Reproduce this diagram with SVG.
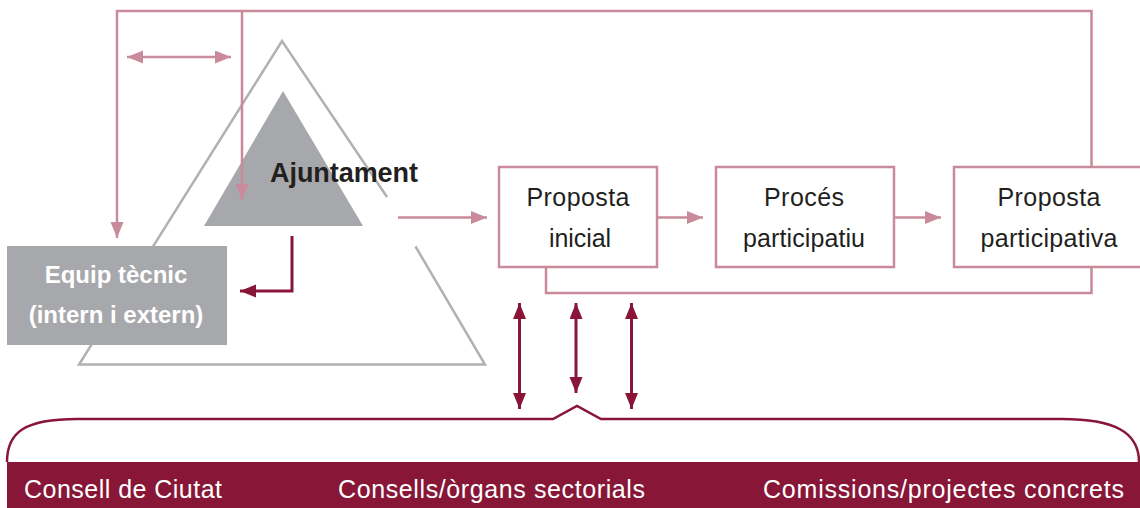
<svg xmlns="http://www.w3.org/2000/svg" width="1140" height="508" viewBox="0 0 1140 508">
<defs>
<style>
.pink{fill:none;stroke:#c98b9b;stroke-width:2.5}
.dark{fill:none;stroke:#891638;stroke-width:3}
.box{fill:#fff;stroke:#c98b9b;stroke-width:2.5}
.btxt{font-family:"Liberation Sans",Arial,sans-serif;font-size:25px;fill:#231f20;text-anchor:middle}
.bar{font-family:"Liberation Sans",Arial,sans-serif;font-size:25px;fill:#fff}
.eq{font-family:"Liberation Sans",Arial,sans-serif;font-size:24px;font-weight:bold;fill:#fff;text-anchor:middle}
</style>
<marker id="pa" markerUnits="userSpaceOnUse" markerWidth="17" markerHeight="14" refX="16" refY="6.5" orient="auto-start-reverse"><path d="M0,0 L16,6.5 L0,13 z" fill="#c98b9b"/></marker>
<marker id="da" markerUnits="userSpaceOnUse" markerWidth="17" markerHeight="14" refX="16" refY="6.5" orient="auto-start-reverse"><path d="M0,0 L16,6.5 L0,13 z" fill="#891638"/></marker>
</defs>
<rect width="1140" height="508" fill="#fff"/>

<g id="ajuntament">
<path d="M387,197 L282,41 L79,364.5 L485,364.5 L415.5,246.5" fill="none" stroke="#b1b1b3" stroke-width="2.5"/>
<polygon points="283,91 204,226 363,226" fill="#a7a8ab"/>
<text x="270" y="182" font-family="'Liberation Sans',Arial,sans-serif" font-size="27" font-weight="bold" fill="#231f20" textLength="148">Ajuntament</text>
</g>

<g id="equip">
<rect x="7" y="246" width="220" height="99" fill="#a7a8ab"/>
<text class="eq" x="116" y="283">Equip tècnic</text>
<text class="eq" x="116" y="323">(intern i extern)</text>
</g>

<g id="proposta-inicial">
<rect class="box" x="499" y="167" width="158" height="100"/>
<text class="btxt" x="578" y="206" textLength="103">Proposta</text>
<text class="btxt" x="580" y="247" textLength="62">inicial</text>
</g>
<g id="proces">
<rect class="box" x="716" y="167" width="178" height="100"/>
<text class="btxt" x="804" y="206" textLength="80">Procés</text>
<text class="btxt" x="804" y="247" textLength="122">participatiu</text>
</g>
<g id="proposta-participativa">
<rect class="box" x="954" y="167" width="192" height="100"/>
<text class="btxt" x="1049" y="206" textLength="103">Proposta</text>
<text class="btxt" x="1049" y="247" textLength="137">participativa</text>
</g>

<g id="organs">
<path d="M7,462 C7,432 25,419 77,419 L553,419 L577,406 L601,419 L1062,419 C1114,419 1139,432 1139,462" fill="none" stroke="#891638" stroke-width="2.5"/>
<rect x="7" y="462" width="1133" height="46" fill="#871637"/>
<text class="bar" x="24" y="498" textLength="198">Consell de Ciutat</text>
<text class="bar" x="338" y="498" textLength="307">Consells/òrgans sectorials</text>
<text class="bar" x="763" y="498" textLength="361">Comissions/projectes concrets</text>
</g>

<g id="connectors">
<polyline class="pink" points="1091.5,167 1091.5,11 117,11 117,238" marker-end="url(#pa)"/>
<line class="pink" x1="242" y1="11" x2="242" y2="200" marker-end="url(#pa)"/>
<line class="pink" x1="127" y1="57" x2="231" y2="57" marker-start="url(#pa)" marker-end="url(#pa)"/>
<line class="pink" x1="398" y1="217.5" x2="487" y2="217.5" marker-end="url(#pa)"/>
<line class="pink" x1="657" y1="217.5" x2="703" y2="217.5" marker-end="url(#pa)"/>
<line class="pink" x1="894" y1="217.5" x2="941" y2="217.5" marker-end="url(#pa)"/>
<polyline class="pink" points="546,267 546,293 1091.5,293 1091.5,267"/>
<polyline class="dark" points="292,236 292,291 240,291" marker-end="url(#da)"/>
<line class="dark" x1="519.5" y1="303" x2="519.5" y2="409" marker-start="url(#da)" marker-end="url(#da)"/>
<line class="dark" x1="576" y1="303" x2="576" y2="393" marker-start="url(#da)" marker-end="url(#da)"/>
<line class="dark" x1="631.5" y1="303" x2="631.5" y2="409" marker-start="url(#da)" marker-end="url(#da)"/>
</g>
</svg>
